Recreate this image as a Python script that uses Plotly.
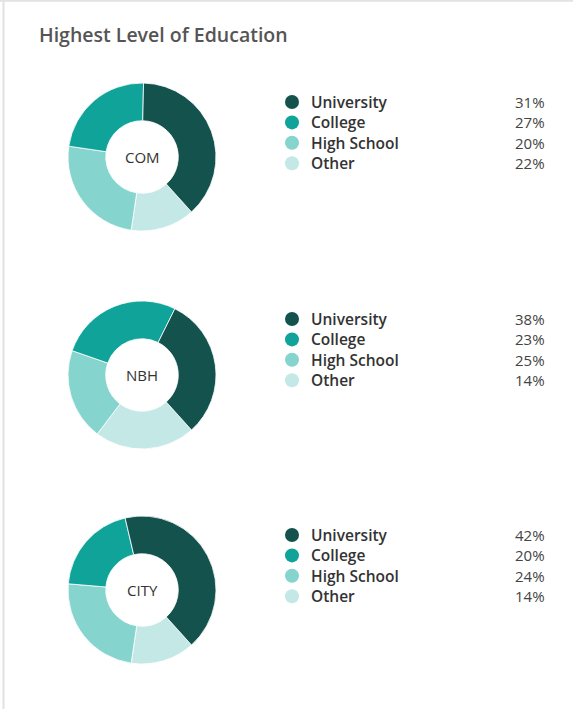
import plotly.graph_objects as go

W, H = 573, 709

categories = ["University", "College", "High School", "Other"]
colors = ["#13524D", "#0FA39A", "#86D4CE", "#C3E8E6"]

regions = ["COM", "NBH", "CITY"]
# percentages printed in the legends
com_pct = [31, 27, 20, 22]
nbh_pct = [38, 23, 25, 14]
city_pct = [42, 20, 24, 14]
# slice sizes as drawn in each ring
com_ring = [38, 23, 25, 14]
nbh_ring = [31, 27, 20, 22]
city_ring = [42, 20, 24, 14]

legend_pcts = [com_pct, nbh_pct, city_pct]
ring_values = [com_ring, nbh_ring, city_ring]

title = "Highest Level of Education"

# layout (pixels)
centers_y = [157, 375, 590]
center_x = 142
R = 74
legend_first_y = [102, 319, 535]
row_step = 20.4

fig = go.Figure()

for i, (name, vals) in enumerate(zip(regions, ring_values)):
    cy = centers_y[i]
    fig.add_trace(go.Pie(
        labels=categories[::-1], values=vals[::-1], sort=False,
        direction="clockwise", rotation=138,
        hole=0.49,
        marker=dict(colors=colors[::-1], line=dict(color="rgba(255,255,255,0.8)", width=1)),
        textinfo="none", hoverinfo="skip", showlegend=False,
        domain=dict(x=[(center_x - R) / W, (center_x + R) / W],
                    y=[1 - (cy + R) / H, 1 - (cy - R) / H]),
    ))
    fig.add_annotation(x=center_x, y=cy, xref="x", yref="y", text=name,
                       showarrow=False, xanchor="center", yanchor="middle",
                       font=dict(family="Open Sans", size=15, color="#333333"))

# legend markers and texts
mx, my, mc = [], [], []
for i in range(3):
    for j, cat in enumerate(categories):
        y = legend_first_y[i] + j * row_step
        mx.append(292)
        my.append(y)
        mc.append(colors[j])
        fig.add_annotation(x=309, y=y, xref="x", yref="y", text=cat,
                           showarrow=False, xanchor="left", yanchor="middle",
                           font=dict(family="Open Sans", size=15.5, color="#333333", weight=600))
        fig.add_annotation(x=547, y=y, xref="x", yref="y", text=f"{legend_pcts[i][j]}%",
                           showarrow=False, xanchor="right", yanchor="middle",
                           font=dict(family="Open Sans", size=15, color="#444444"))

fig.add_trace(go.Scatter(x=mx, y=my, mode="markers",
                         marker=dict(size=14, color=mc, line=dict(width=0)),
                         hoverinfo="skip", showlegend=False))

fig.add_annotation(x=37, y=34, xref="x", yref="y", text=title, showarrow=False,
                   xanchor="left", yanchor="middle",
                   font=dict(family="Open Sans", size=19.5, color="#555555", weight=600))

# card border (top and left)
fig.add_shape(type="line", xref="x", yref="y", x0=0, x1=W, y0=0.8, y1=0.8,
              line=dict(color="#E2E2E2", width=2))
fig.add_shape(type="line", xref="x", yref="y", x0=3.5, x1=3.5, y0=0, y1=H,
              line=dict(color="#E2E2E2", width=2))

fig.update_layout(
    width=W, height=H,
    margin=dict(l=0, r=0, t=0, b=0),
    paper_bgcolor="white", plot_bgcolor="white",
    xaxis=dict(range=[0, W], visible=False, fixedrange=True),
    yaxis=dict(range=[H, 0], visible=False, fixedrange=True),
    font=dict(family="Open Sans"),
)

fig.write_html("out.html", config={"displayModeBar": False},
               post_script="document.body.style.margin='0';document.body.style.overflow='hidden';")
